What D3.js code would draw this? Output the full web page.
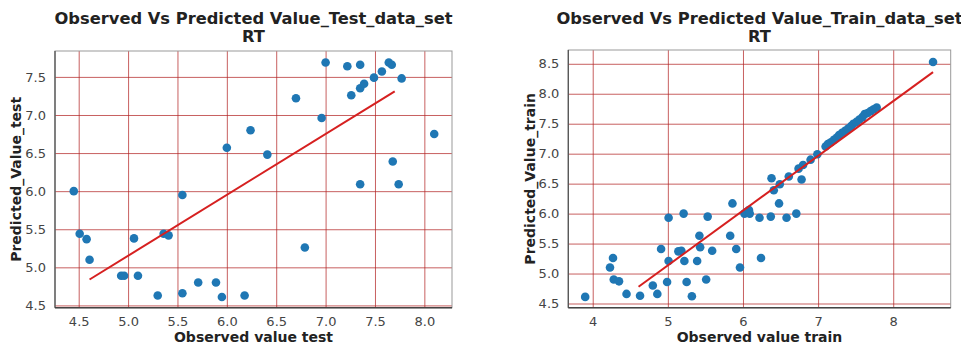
<!DOCTYPE html>
<html>
<head>
<meta charset="utf-8">
<script src="https://cdn.jsdelivr.net/npm/d3@7"></script>
<style>
  body { margin: 0; background: #fff; }
  svg { display: block; font-family: "DejaVu Sans", sans-serif; }
</style>
</head>
<body>
<div id="chart"></div>
<script>
// test set: observed vs predicted
var testObserved = [4.45, 4.51, 4.58, 4.61, 4.93, 4.96, 5.06, 5.10, 5.30, 5.36, 5.41, 5.55, 5.55, 5.71, 5.89, 5.95,
    6.00, 6.18, 6.24, 6.41, 6.70, 6.79, 6.96, 7.00, 7.22, 7.26, 7.35, 7.35, 7.35, 7.39, 7.49, 7.57, 7.64, 7.67,
    7.68, 7.74, 7.77, 8.10]
var testPredicted = [6.00, 5.44, 5.37, 5.10, 4.89, 4.89, 5.38, 4.89, 4.63, 5.44, 5.42, 5.95, 4.66, 4.80, 4.80, 4.61,
    6.57, 4.63, 6.80, 6.48, 7.22, 5.26, 6.96, 7.69, 7.64, 7.26, 7.66, 7.35, 6.09, 7.41, 7.49, 7.57, 7.69, 7.66,
    6.39, 6.09, 7.48, 6.75]

// train set: observed vs predicted
var trainObserved = [3.90, 4.23, 4.27, 4.28, 4.35, 4.45, 4.63, 4.80, 4.86, 4.91, 4.99, 5.01, 5.01, 5.14, 5.18, 5.21,
    5.22, 5.25, 5.32, 5.39, 5.42, 5.43, 5.51, 5.53, 5.59, 5.83, 5.86, 5.91, 5.96, 6.02, 6.05, 6.08, 6.09, 6.22,
    6.24, 6.37, 6.48, 6.58, 6.71, 6.38, 6.41, 6.49, 6.61, 6.78, 6.74, 6.80, 6.90, 6.99, 7.10, 7.13, 7.17, 7.21,
    7.25, 7.28, 7.32, 7.36, 7.40, 7.44, 7.47, 7.51, 7.55, 7.59, 7.62, 7.66, 7.70, 7.74, 7.78, 8.53]
var trainPredicted = [4.61, 5.10, 5.26, 4.90, 4.87, 4.66, 4.63, 4.80, 4.66, 5.41, 4.86, 5.21, 5.93, 5.37, 5.38, 6.00,
    5.21, 4.86, 4.62, 5.21, 5.63, 5.44, 4.90, 5.95, 5.38, 5.63, 6.17, 5.41, 5.10, 6.00, 6.03, 6.06, 6.00, 5.93,
    5.26, 5.95, 6.17, 5.93, 6.00, 6.59, 6.39, 6.49, 6.62, 6.57, 6.75, 6.81, 6.90, 6.99, 7.12, 7.16, 7.19, 7.23,
    7.27, 7.31, 7.35, 7.38, 7.42, 7.46, 7.50, 7.53, 7.57, 7.61, 7.66, 7.68, 7.71, 7.74, 7.77, 8.53]

// fitted lines (end points)
var testLineX = [4.61, 7.70]
var testLineY = [4.84, 7.31]
var trainLineX = [4.61, 8.53]
var trainLineY = [4.78, 8.36]

// ticks
var testXTicks = [4.5, 5.0, 5.5, 6.0, 6.5, 7.0, 7.5, 8.0]
var testYTicks = [4.5, 5.0, 5.5, 6.0, 6.5, 7.0, 7.5]
var trainXTicks = [4, 5, 6, 7, 8]
var trainYTicks = [4.5, 5.0, 5.5, 6.0, 6.5, 7.0, 7.5, 8.0, 8.5]

var svgSize = { width: 961, height: 344 }

var svg = d3.select("#chart").append("svg")
    .attr("width", svgSize.width)
    .attr("height", svgSize.height)

var panels = [
    {
        left: 55, top: 51, width: 397, height: 256.7,
        xDomain: [4.26, 8.28], yDomain: [4.47, 7.84],
        xs: testObserved, ys: testPredicted, lx: testLineX, ly: testLineY,
        xTicks: testXTicks, yTicks: testYTicks, xFmt: d3.format(".1f"),
        title: "Observed Vs Predicted Value_Test_data_set",
        xLabel: "Observed value test", yLabel: "Predicted_Value_test", yLabelX: 21
    },
    {
        left: 568.3, top: 50, width: 382.4, height: 257.7,
        xDomain: [3.675, 8.765], yDomain: [4.43, 8.73],
        xs: trainObserved, ys: trainPredicted, lx: trainLineX, ly: trainLineY,
        xTicks: trainXTicks, yTicks: trainYTicks, xFmt: d3.format("d"),
        title: "Observed Vs Predicted Value_Train_data_set",
        xLabel: "Observed value train", yLabel: "Predicted_Value_train", yLabelX: 535
    }
]

panels.forEach(p => {
    var xScale = d3.scaleLinear().domain(p.xDomain).range([0, p.width])
    var yScale = d3.scaleLinear().domain(p.yDomain).range([p.height, 0])

    var frame = svg.append("g").attr("transform", `translate(${p.left}, ${p.top})`)

    // grid
    var xGrid = frame.append("g")
        .attr("transform", `translate(0, ${p.height})`)
        .call(d3.axisBottom(xScale).tickValues(p.xTicks).tickSize(-p.height).tickFormat(""))
    var yGrid = frame.append("g")
        .call(d3.axisLeft(yScale).tickValues(p.yTicks).tickSize(-p.width).tickFormat(""))
    ;[xGrid, yGrid].forEach(g => {
        g.select(".domain").remove()
        g.selectAll("line").attr("stroke", "#b22222").attr("stroke-opacity", 0.72).attr("stroke-width", 1)
    })

    // tick labels
    var xAxis = frame.append("g")
        .attr("transform", `translate(0, ${p.height})`)
        .call(d3.axisBottom(xScale).tickValues(p.xTicks).tickSize(0).tickPadding(9).tickFormat(p.xFmt))
    var yAxis = frame.append("g")
        .call(d3.axisLeft(yScale).tickValues(p.yTicks).tickSize(0).tickPadding(9).tickFormat(d3.format(".1f")))
    ;[xAxis, yAxis].forEach(g => {
        g.select(".domain").remove()
        g.selectAll("text").attr("fill", "#444").style("font-size", "13px").style("font-family", "DejaVu Sans")
    })

    // spines
    frame.append("rect").attr("width", p.width).attr("height", p.height)
        .attr("fill", "none").attr("stroke", "#999").attr("stroke-width", 1)
    frame.append("line").attr("x1", 0).attr("x2", 0).attr("y1", 0).attr("y2", p.height)
        .attr("stroke", "#555").attr("stroke-width", 1.3)
    frame.append("line").attr("x1", 0).attr("x2", p.width).attr("y1", p.height).attr("y2", p.height)
        .attr("stroke", "#444").attr("stroke-width", 1.5)

    // points
    frame.append("g").selectAll("circle").data(p.xs)
        .enter().append("circle")
        .attr("cx", (d, i) => xScale(d))
        .attr("cy", (d, i) => yScale(p.ys[i]))
        .attr("r", 4.3)
        .attr("fill", "#1f77b4")

    // fitted line
    frame.append("line")
        .attr("x1", xScale(p.lx[0])).attr("y1", yScale(p.ly[0]))
        .attr("x2", xScale(p.lx[1])).attr("y2", yScale(p.ly[1]))
        .attr("stroke", "#d62020").attr("stroke-width", 2)

    // titles
    var cx = p.left + p.width / 2
    svg.append("text").attr("x", cx).attr("y", 24).attr("text-anchor", "middle")
        .style("font-size", "16.3px").style("font-weight", "bold").attr("fill", "#222")
        .text(p.title)
    svg.append("text").attr("x", cx).attr("y", 42).attr("text-anchor", "middle")
        .style("font-size", "16.3px").style("font-weight", "bold").attr("fill", "#222")
        .text("RT")
    svg.append("text").attr("x", cx).attr("y", 342).attr("text-anchor", "middle")
        .style("font-size", "14px").style("font-weight", "bold").attr("fill", "#222")
        .text(p.xLabel)
    svg.append("text")
        .attr("transform", `translate(${p.yLabelX}, ${p.top + p.height / 2}) rotate(-90)`)
        .attr("text-anchor", "middle")
        .style("font-size", "14px").style("font-weight", "bold").attr("fill", "#222")
        .text(p.yLabel)
})
</script>
</body>
</html>
